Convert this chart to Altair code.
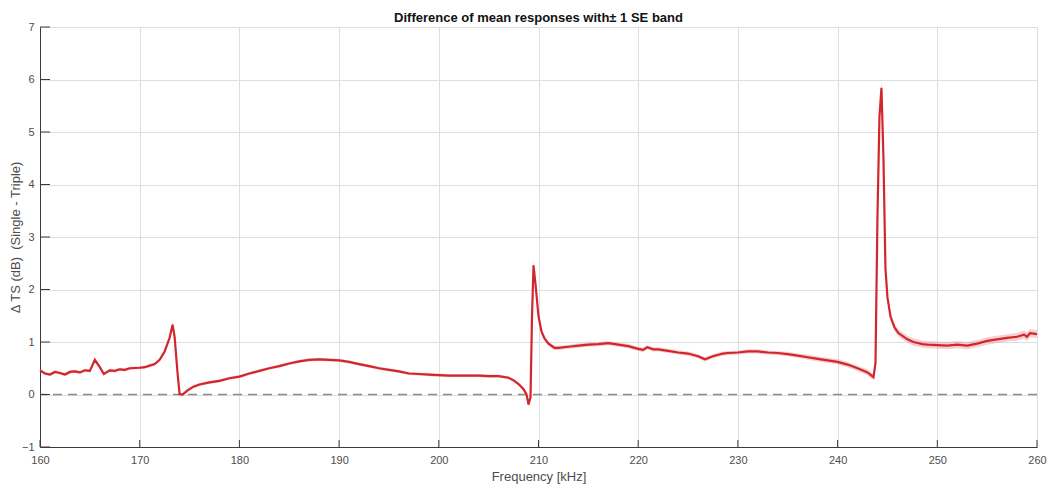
import altair as alt
import pandas as pd

# Frequency (kHz), mean difference (dB), standard error (dB)
freq = [160.0, 160.5, 161.0, 161.5, 162.0, 162.5, 163.0, 163.5, 164.0, 164.5,
        165.0, 165.5, 166.0, 166.4, 167.0, 167.5, 168.0, 168.5, 169.0, 170.0,
        170.5, 171.0, 171.5, 172.0, 172.5, 173.0, 173.3, 173.5, 173.8, 174.0,
        174.3, 174.8, 175.4, 176.0, 177.0, 178.0, 179.0, 180.0, 181.0, 182.0,
        183.0, 184.0, 185.0, 186.0, 187.0, 188.0, 189.0, 190.0, 191.0, 192.0,
        193.0, 194.0, 195.0, 196.0, 197.0, 198.0, 199.0, 200.0, 201.0, 202.0,
        203.0, 204.0, 205.0, 206.0, 207.0, 207.5, 208.0, 208.5, 208.8, 209.0,
        209.2, 209.35, 209.5, 209.7, 210.0, 210.3, 210.6, 211.0, 211.6, 212.0,
        213.0, 214.0, 215.0, 216.0, 217.0, 218.0, 219.0, 220.0, 220.5, 220.9,
        221.5, 222.0, 223.0, 224.0, 225.0, 226.0, 226.7, 227.5, 228.5, 229.0,
        230.0, 231.0, 232.0, 233.0, 234.0, 235.0, 236.0, 237.0, 238.0, 239.0,
        240.0, 241.0, 242.0, 243.0, 243.6, 243.8, 244.0, 244.2, 244.4, 244.6,
        244.8, 245.0, 245.3, 245.7, 246.1, 247.0, 247.6, 248.5, 249.0, 250.0,
        251.0, 252.0, 253.0, 254.0, 255.0, 256.0, 257.0, 258.0, 258.7, 259.0,
        259.3, 260.0]
mean = [0.46, 0.40, 0.38, 0.43, 0.41, 0.38, 0.43, 0.44, 0.42, 0.46,
        0.45, 0.66, 0.52, 0.39, 0.46, 0.45, 0.48, 0.47, 0.50, 0.51,
        0.52, 0.55, 0.58, 0.66, 0.82, 1.08, 1.33, 1.10, 0.40, 0.01,
        0.00, 0.08, 0.15, 0.19, 0.23, 0.26, 0.31, 0.34, 0.40, 0.45,
        0.50, 0.54, 0.59, 0.63, 0.66, 0.67, 0.66, 0.65, 0.62, 0.58,
        0.54, 0.50, 0.47, 0.44, 0.40, 0.39, 0.38, 0.37, 0.36, 0.36,
        0.36, 0.36, 0.35, 0.35, 0.32, 0.27, 0.20, 0.10, 0.00, -0.19,
        -0.05, 1.50, 2.46, 2.10, 1.49, 1.20, 1.07, 0.97, 0.89, 0.89,
        0.91, 0.93, 0.95, 0.96, 0.98, 0.95, 0.92, 0.87, 0.85, 0.90,
        0.86, 0.86, 0.83, 0.80, 0.78, 0.73, 0.67, 0.73, 0.78, 0.79,
        0.80, 0.82, 0.82, 0.80, 0.79, 0.77, 0.74, 0.71, 0.68, 0.65,
        0.62, 0.57, 0.50, 0.42, 0.33, 0.60, 3.40, 5.30, 5.84, 4.50,
        2.40, 1.85, 1.49, 1.28, 1.17, 1.05, 1.00, 0.96, 0.95, 0.94,
        0.93, 0.95, 0.93, 0.97, 1.02, 1.05, 1.08, 1.10, 1.14, 1.10,
        1.17, 1.15]
se = [0.03, 0.03, 0.03, 0.03, 0.03, 0.03, 0.03, 0.03, 0.03, 0.03,
      0.03, 0.04, 0.03, 0.03, 0.03, 0.03, 0.03, 0.03, 0.03, 0.03,
      0.03, 0.03, 0.03, 0.03, 0.04, 0.05, 0.06, 0.05, 0.04, 0.03,
      0.03, 0.03, 0.03, 0.03, 0.03, 0.03, 0.03, 0.03, 0.03, 0.03,
      0.03, 0.03, 0.03, 0.03, 0.03, 0.03, 0.03, 0.03, 0.03, 0.03,
      0.03, 0.03, 0.03, 0.03, 0.03, 0.03, 0.03, 0.03, 0.03, 0.03,
      0.03, 0.03, 0.03, 0.03, 0.03, 0.03, 0.03, 0.04, 0.04, 0.05,
      0.05, 0.08, 0.10, 0.08, 0.06, 0.05, 0.04, 0.04, 0.04, 0.04,
      0.04, 0.04, 0.04, 0.04, 0.04, 0.04, 0.04, 0.04, 0.04, 0.04,
      0.04, 0.04, 0.04, 0.04, 0.04, 0.04, 0.04, 0.04, 0.04, 0.04,
      0.04, 0.04, 0.04, 0.04, 0.04, 0.04, 0.04, 0.05, 0.05, 0.05,
      0.05, 0.05, 0.05, 0.06, 0.06, 0.08, 0.12, 0.14, 0.14, 0.12,
      0.10, 0.08, 0.07, 0.07, 0.07, 0.07, 0.07, 0.07, 0.07, 0.07,
      0.07, 0.07, 0.07, 0.07, 0.07, 0.07, 0.07, 0.07, 0.08, 0.08,
      0.08, 0.08]

x_ticks = [160, 170, 180, 190, 200, 210, 220, 230, 240, 250, 260]
y_ticks = [-1, 0, 1, 2, 3, 4, 5, 6, 7]

df = pd.DataFrame({"freq": freq, "mean": mean, "se": se})
df["lo"] = df["mean"] - df["se"]
df["hi"] = df["mean"] + df["se"]

FONT = "Liberation Sans"
LABEL = "#4d4d4d"

xs = alt.Scale(domain=[160, 260], nice=False, zero=False)
ys = alt.Scale(domain=[-1, 7], nice=False, zero=False)

x_axis = alt.Axis(values=x_ticks, title="Frequency [kHz]", grid=True,
                  gridColor="#dedede", gridWidth=1, domainColor="#3a3a3a",
                  domainWidth=1, ticks=False, labelPadding=7, labelFlush=False,
                  labelFont=FONT, labelFontSize=11, labelColor=LABEL,
                  titleFont=FONT, titleFontSize=13, titleFontWeight="normal",
                  titleColor=LABEL, titlePadding=5)
y_axis = alt.Axis(values=y_ticks, title="Δ TS (dB)\u00a0 (Single - Triple)",
                  grid=True, gridColor="#dedede", gridWidth=1,
                  domainColor="#3a3a3a", domainWidth=1, ticks=False,
                  labelPadding=6, labelFlush=False, labelFont=FONT,
                  labelFontSize=11, labelColor=LABEL, titleFont=FONT,
                  titleFontSize=13, titleFontWeight="normal", titleColor=LABEL,
                  titlePadding=-1)

base = alt.Chart(df)

band = base.mark_area(color="#e8888c", opacity=0.4).encode(
    x=alt.X("freq:Q", scale=xs, axis=x_axis),
    y=alt.Y("lo:Q", scale=ys, axis=y_axis),
    y2="hi:Q",
)

line = base.mark_line(color="#d2262d", strokeWidth=2.2).encode(
    x=alt.X("freq:Q", scale=xs),
    y=alt.Y("mean:Q", scale=ys),
)

zero = alt.Chart(pd.DataFrame({"y": [0]})).mark_rule(
    color="#8c8c8c", strokeDash=[9, 6], strokeWidth=1.3
).encode(y=alt.Y("y:Q", scale=ys))

xt = alt.Chart(pd.DataFrame({"t": x_ticks})).mark_rule(
    color="#3a3a3a", strokeWidth=1
).encode(x=alt.X("t:Q", scale=xs), y=alt.value(420), y2=alt.value(413))

yt = alt.Chart(pd.DataFrame({"t": y_ticks})).mark_rule(
    color="#3a3a3a", strokeWidth=1
).encode(y=alt.Y("t:Q", scale=ys), x=alt.value(0), x2=alt.value(10))

chart = alt.layer(band, zero, line, xt, yt).properties(
    width=997, height=420,
    title=alt.TitleParams("Difference of mean responses with± 1 SE band",
                          font=FONT, fontSize=13, fontWeight="bold",
                          color="#111111", anchor="middle", offset=-4),
    autosize=alt.AutoSizeParams(type="none"),
    padding={"left": 40, "top": 27, "right": 13, "bottom": 43},
).configure_view(stroke=None, fill="#fdfdfd").configure(background="white")

chart.save("out.html", embed_options={"renderer": "svg", "actions": False})
